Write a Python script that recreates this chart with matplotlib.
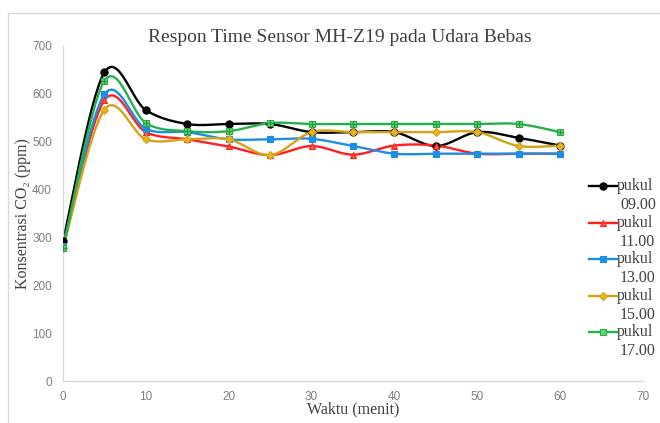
import numpy as np
import matplotlib
matplotlib.use("Agg")
import matplotlib.pyplot as plt
from matplotlib.lines import Line2D
from matplotlib.patches import Rectangle

# ---------------------------------------------------------------------------
# Data
# ---------------------------------------------------------------------------
waktu = [0, 5, 10, 15, 20, 25, 30, 35, 40, 45, 50, 55, 60]

pukul_0900 = [292, 645, 566, 537, 537, 537, 520, 520, 520, 491, 520, 508, 492]
pukul_1100 = [280, 587, 520, 505, 490, 472, 491, 473, 492, 492, 475, 475, 475]
pukul_1300 = [283, 599, 527, 520, 505, 505, 506, 491, 475, 475, 475, 475, 475]
pukul_1500 = [278, 567, 505, 505, 505, 472, 520, 520, 520, 520, 520, 491, 492]
pukul_1700 = [277, 627, 539, 522, 522, 539, 537, 537, 537, 537, 537, 537, 520]

labels = ["pukul 09.00", "pukul 11.00", "pukul 13.00", "pukul 15.00", "pukul 17.00"]
series = [pukul_0900, pukul_1100, pukul_1300, pukul_1500, pukul_1700]

colours = ["#000000", "#ff1f1f", "#1c8ee6", "#d4a214", "#22b14c"]
face = ["#000000", "#ff5a3a", "#1c8ee6", "#e6b422", "#6fcf6f"]
markers = ["o", "^", "s", "D", "s"]
msizes = [5.2, 5, 5, 4.2, 5]

SERIF = ["Liberation Serif", "DejaVu Serif"]
TICK_GREY = "#7f7f7f"
AXIS_GREY = "#d9d9d9"
TEXT = "#404040"


def smooth(xs, ys, n=30):
    """Excel-like smoothed line (Catmull-Rom via cubic Bezier)."""
    x = np.asarray(xs, float)
    y = np.asarray(ys, float)
    px = np.concatenate([[x[0]], x, [x[-1]]])
    py = np.concatenate([[y[0]], y, [y[-1]]])
    out_x, out_y = [], []
    t = np.linspace(0, 1, n)
    for i in range(1, len(px) - 2):
        p0 = np.array([px[i - 1], py[i - 1]])
        p1 = np.array([px[i], py[i]])
        p2 = np.array([px[i + 1], py[i + 1]])
        p3 = np.array([px[i + 2], py[i + 2]])
        c1 = p1 + (p2 - p0) / 6
        c2 = p2 - (p3 - p1) / 6
        b = ((1 - t) ** 3)[:, None] * p1 + (3 * (1 - t) ** 2 * t)[:, None] * c1 \
            + (3 * (1 - t) * t ** 2)[:, None] * c2 + (t ** 3)[:, None] * p2
        out_x.extend(b[:, 0])
        out_y.extend(b[:, 1])
    return out_x, out_y


fig = plt.figure(figsize=(6.6, 4.23), dpi=100)
fig.patch.set_facecolor("white")

# outer chart border (cropped on right/bottom)
fig.add_artist(Rectangle((8 / 660, -0.05), 1.0, 1 - 13 / 423 + 0.05,
                         transform=fig.transFigure, fill=False,
                         edgecolor="#d9d9d9", linewidth=1.0))

ax = fig.add_axes([63 / 660, 1 - 381 / 423, (643 - 63) / 660, (381 - 46) / 423])
ax.set_facecolor("white")

for ys, c, fc, m, ms in zip(series, colours, face, markers, msizes):
    sx, sy = smooth(waktu, ys)
    ax.plot(sx, sy, color=c, linewidth=1.7, zorder=2)
    ax.plot(waktu, ys, linestyle="none", marker=m, markersize=ms,
            markerfacecolor=fc, markeredgecolor=c, markeredgewidth=0.8, zorder=3)
    if m == "s" and c == "#22b14c":
        ax.plot(waktu, ys, linestyle="none", marker="+", markersize=ms,
                color="#2a9a3a", markeredgewidth=0.9, zorder=4)

ax.set_xlim(0, 70)
ax.set_ylim(0, 700)
ax.set_xticks(range(0, 71, 10))
ax.set_yticks(range(0, 701, 100))

for side in ["top", "right"]:
    ax.spines[side].set_visible(False)
for side in ["left", "bottom"]:
    ax.spines[side].set_color(AXIS_GREY)
    ax.spines[side].set_linewidth(1.0)
ax.tick_params(axis="both", length=0, labelsize=8.5, colors=TICK_GREY,
               labelfontfamily="Liberation Sans")
ax.tick_params(axis="x", pad=7)
ax.tick_params(axis="y", pad=8)

fig.text(340 / 660, 1 - 38 / 423, "Respon Time Sensor MH-Z19 pada Udara Bebas",
         family=SERIF, fontsize=14, color=TEXT, ha="center", va="center")
ax.set_xlabel("Waktu (menit)", family=SERIF, fontsize=11.5, color=TEXT, labelpad=-1)
ax.set_ylabel("Konsentrasi CO\u2082 (ppm)", family=SERIF, fontsize=11.5,
              color=TEXT, labelpad=1)

# legend drawn by hand so the marker sits beside the first line of text
leg_y = [186, 223, 259, 296, 332]
for lab, c, fc, m, ms, yp in zip(labels, colours, face, markers, msizes, leg_y):
    yf = 1 - yp / 423
    fig.add_artist(Line2D([589 / 660, 617 / 660], [yf, yf], color=c,
                          linewidth=1.7, transform=fig.transFigure))
    fig.add_artist(Line2D([603 / 660], [yf], marker=m, markersize=ms,
                          markerfacecolor=fc, markeredgecolor=c,
                          markeredgewidth=0.8, transform=fig.transFigure))
    first, second = lab.split(" ")
    fig.text(617 / 660, yf, first, family=SERIF, fontsize=11.5,
             color=TEXT, va="center", ha="left")
    fig.text(620 / 660, yf - 19 / 423, second, family=SERIF, fontsize=11.5,
             color=TEXT, va="center", ha="left")

fig.savefig("out.png", dpi=100)
